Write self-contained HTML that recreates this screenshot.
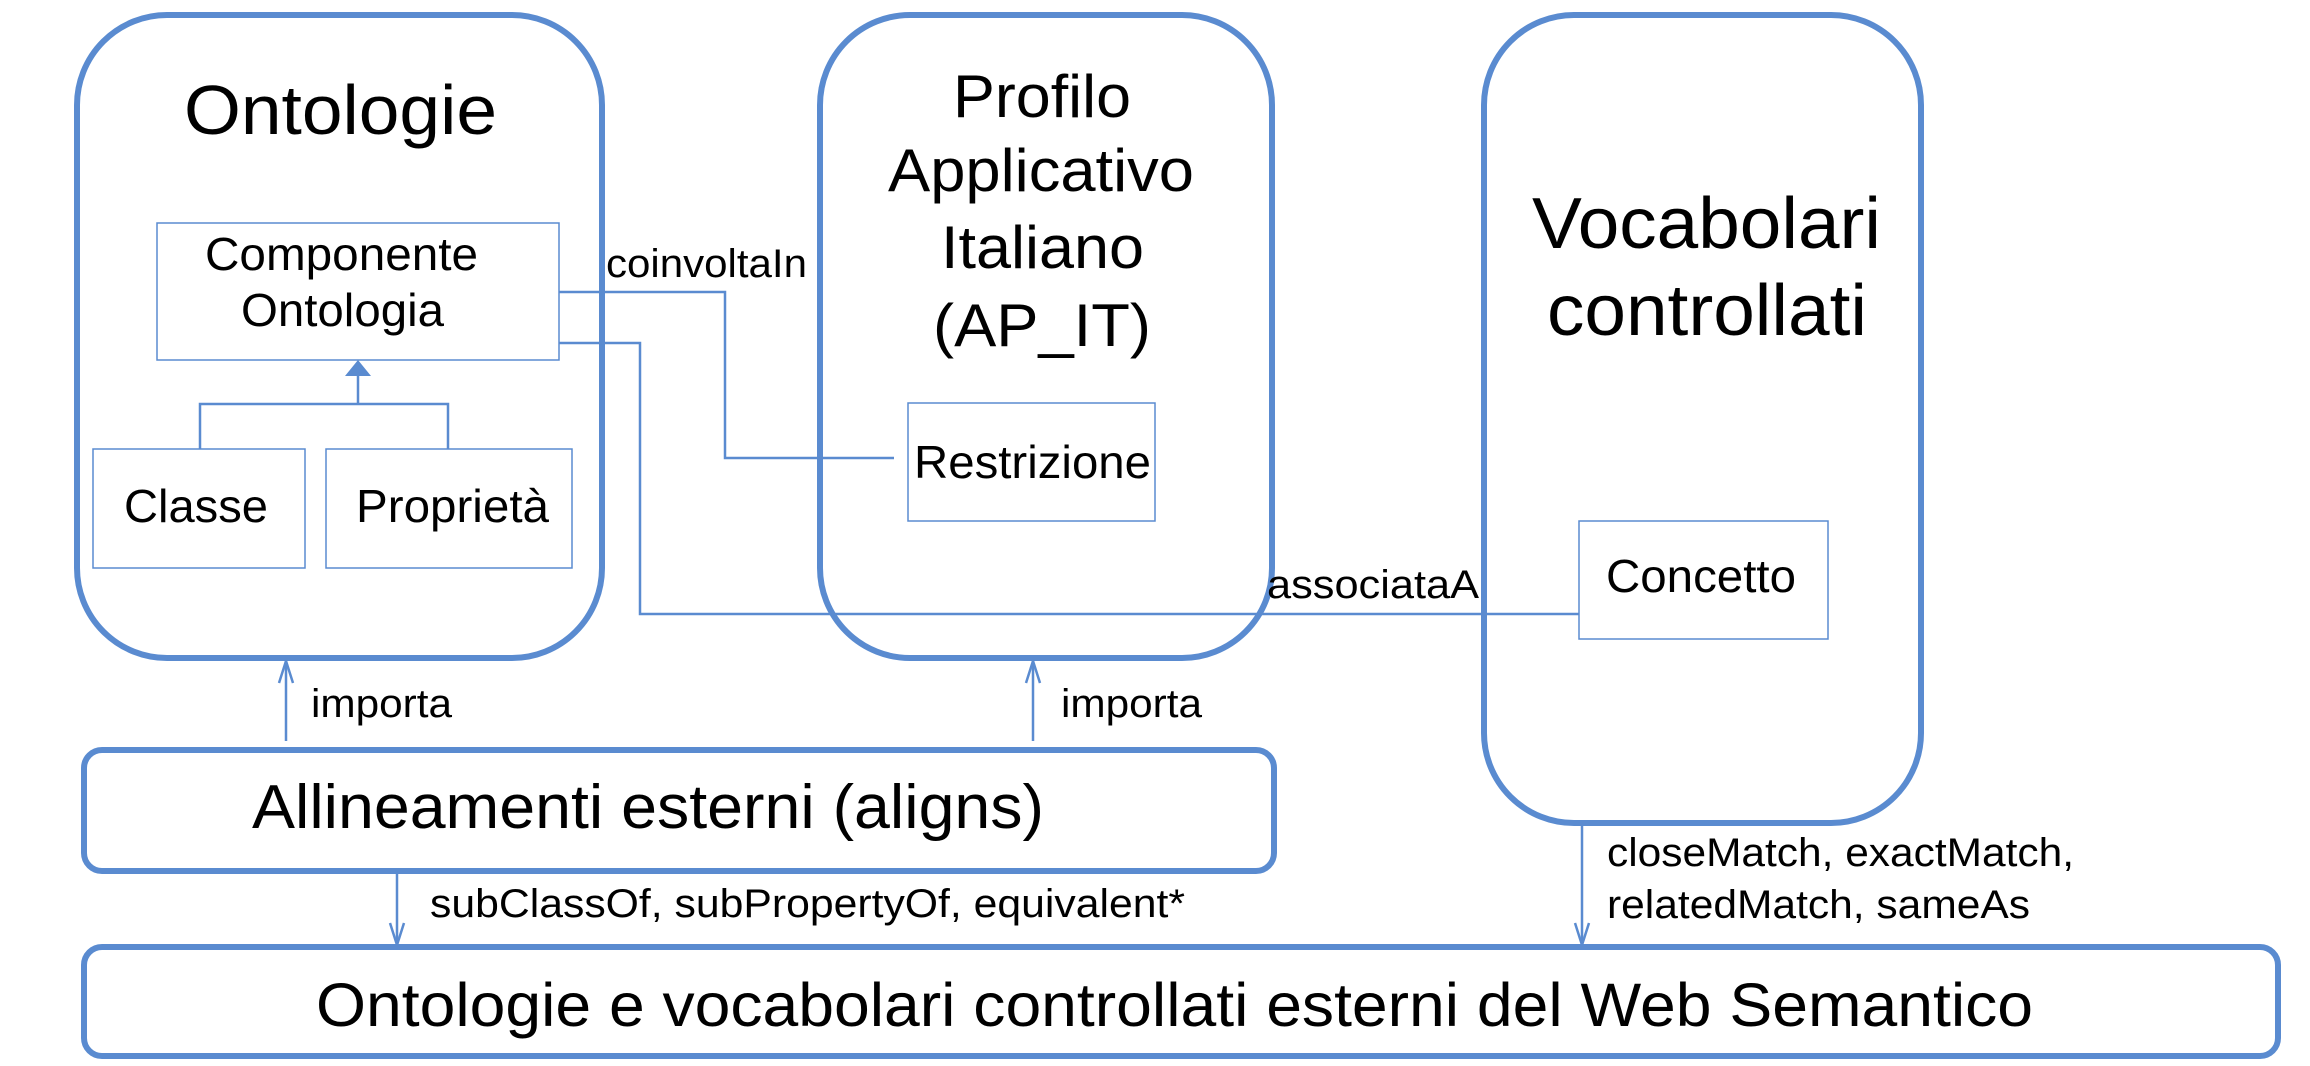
<!DOCTYPE html>
<html><head><meta charset="utf-8"><style>
html,body{margin:0;padding:0;background:#fff;}
svg{display:block;}
text{font-family:"Liberation Sans",Arial,sans-serif;fill:#000;}
</style></head><body>
<svg width="2310" height="1066" viewBox="0 0 2310 1066" xmlns="http://www.w3.org/2000/svg">
<g fill="none" stroke="#5a8bd0" stroke-width="6">
<rect x="77" y="15" width="525" height="643" rx="90" ry="90"/>
<rect x="820" y="15" width="452" height="643" rx="90" ry="90"/>
<rect x="1484" y="15" width="437" height="808" rx="90" ry="90"/>
<rect x="84" y="750" width="1190" height="121" rx="18" ry="18"/>
<rect x="84" y="947" width="2194" height="109" rx="18" ry="18"/>
</g>
<g fill="#fff" stroke="#5a8bd0" stroke-width="1.5">
<rect x="157" y="223" width="402" height="137"/>
<rect x="93" y="449" width="212" height="119"/>
<rect x="326" y="449" width="246" height="119"/>
<rect x="908" y="403" width="247" height="118"/>
<rect x="1579" y="521" width="249" height="118"/>
</g>
<g fill="none" stroke="#5a8bd0" stroke-width="2.5">
<polyline points="200,449 200,404 448,404 448,449"/>
<line x1="358" y1="404" x2="358" y2="374"/>
<polyline points="559,292 725,292 725,458 894,458"/>
<polyline points="559,343 640,343 640,614 1579,614"/>
<line x1="286" y1="661" x2="286" y2="741"/>
<line x1="1033" y1="661" x2="1033" y2="741"/>
<line x1="397" y1="871" x2="397" y2="945"/>
<line x1="1582" y1="826" x2="1582" y2="945"/>
<polyline points="279,683 286,661 293,683"/>
<polyline points="1026,683 1033,661 1040,683"/>
<polyline points="390,923 397,945 404,923"/>
<polyline points="1575,923 1582,945 1589,923"/>
</g>
<polygon points="358,360 345,376 371,376" fill="#5a8bd0"/>
<text x="184" y="134" font-size="70" textLength="313" lengthAdjust="spacingAndGlyphs">Ontologie</text>
<text x="953" y="117" font-size="60" textLength="178" lengthAdjust="spacingAndGlyphs">Profilo</text>
<text x="888" y="191" font-size="60" textLength="306" lengthAdjust="spacingAndGlyphs">Applicativo</text>
<text x="941" y="268" font-size="60" textLength="203" lengthAdjust="spacingAndGlyphs">Italiano</text>
<text x="933" y="346" font-size="60" textLength="218" lengthAdjust="spacingAndGlyphs">(AP_IT)</text>
<text x="1532" y="248" font-size="72" textLength="349" lengthAdjust="spacingAndGlyphs">Vocabolari</text>
<text x="1547" y="335" font-size="72" textLength="320" lengthAdjust="spacingAndGlyphs">controllati</text>
<text x="205" y="270" font-size="46" textLength="273" lengthAdjust="spacingAndGlyphs">Componente</text>
<text x="241" y="326" font-size="46" textLength="203" lengthAdjust="spacingAndGlyphs">Ontologia</text>
<text x="124" y="522" font-size="46" textLength="144" lengthAdjust="spacingAndGlyphs">Classe</text>
<text x="356" y="522" font-size="46" textLength="193" lengthAdjust="spacingAndGlyphs">Proprietà</text>
<text x="914" y="478" font-size="46" textLength="237" lengthAdjust="spacingAndGlyphs">Restrizione</text>
<text x="1606" y="592" font-size="46" textLength="190" lengthAdjust="spacingAndGlyphs">Concetto</text>
<text x="606" y="277" font-size="40" textLength="201" lengthAdjust="spacingAndGlyphs">coinvoltaIn</text>
<text x="1267" y="598" font-size="40" textLength="212" lengthAdjust="spacingAndGlyphs">associataA</text>
<text x="311" y="717" font-size="40" textLength="141" lengthAdjust="spacingAndGlyphs">importa</text>
<text x="1061" y="717" font-size="40" textLength="141" lengthAdjust="spacingAndGlyphs">importa</text>
<text x="252" y="828" font-size="62" textLength="792" lengthAdjust="spacingAndGlyphs">Allineamenti esterni (aligns)</text>
<text x="430" y="917" font-size="40" textLength="755" lengthAdjust="spacingAndGlyphs">subClassOf, subPropertyOf, equivalent*</text>
<text x="1607" y="866" font-size="40" textLength="467" lengthAdjust="spacingAndGlyphs">closeMatch, exactMatch,</text>
<text x="1607" y="918" font-size="40" textLength="423" lengthAdjust="spacingAndGlyphs">relatedMatch, sameAs</text>
<text x="316" y="1026" font-size="61" textLength="1717" lengthAdjust="spacingAndGlyphs">Ontologie e vocabolari controllati esterni del Web Semantico</text>
</svg>
</body></html>
